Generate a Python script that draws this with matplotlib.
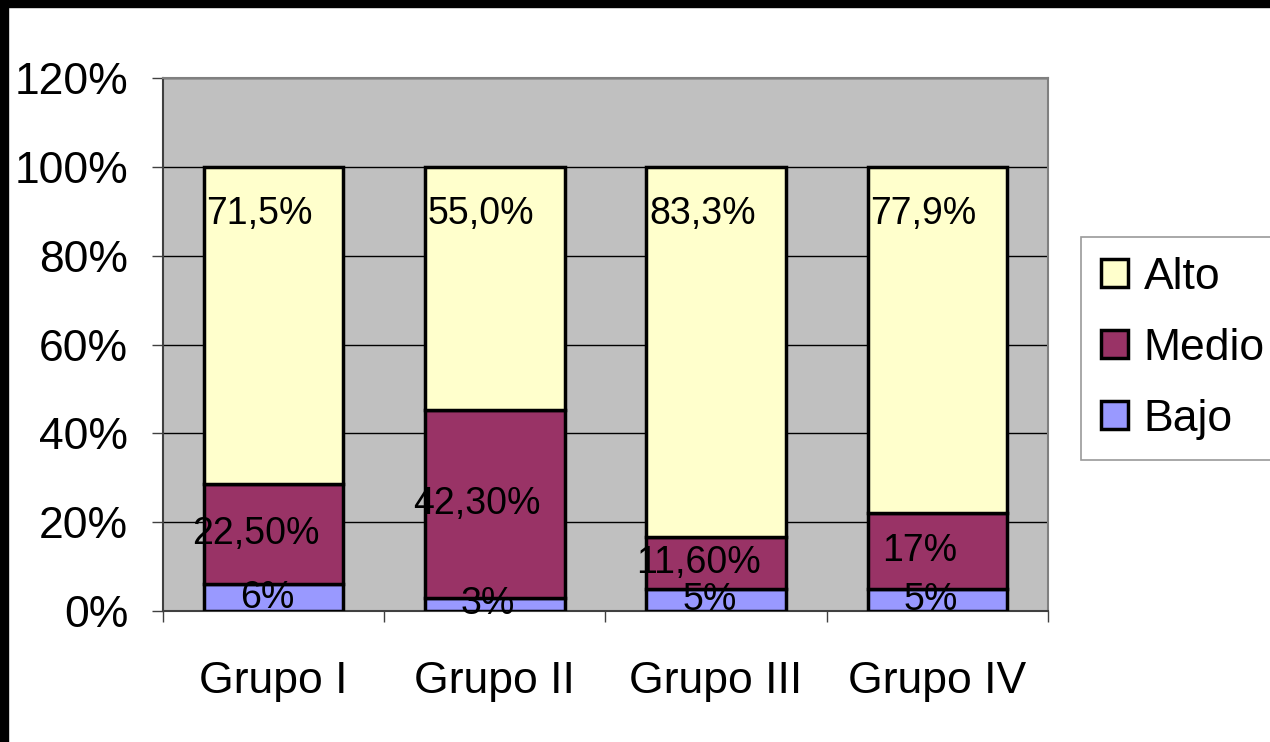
import numpy as np
import matplotlib.pyplot as plt
from matplotlib.patches import Rectangle

plt.rcParams['font.family'] = ['Liberation Sans', 'DejaVu Sans']

grupos = ['Grupo I', 'Grupo II', 'Grupo III', 'Grupo IV']
bajo = [6.0, 3.0, 5.0, 5.0]
medio = [22.5, 42.3, 11.6, 17.0]
alto = [71.5, 55.0, 83.3, 77.9]
lbl_bajo = ['6%', '3%', '5%', '5%']
lbl_medio = ['22,50%', '42,30%', '11,60%', '17%']
lbl_alto = ['71,5%', '55,0%', '83,3%', '77,9%']
yticks = [0, 20, 40, 60, 80, 100, 120]

# 100% stacked, like the spreadsheet
tot = np.array(bajo) + np.array(medio) + np.array(alto)
b = np.array(bajo) / tot * 100
m = np.array(medio) / tot * 100
a = np.array(alto) / tot * 100

fig = plt.figure(figsize=(12.7, 7.42), dpi=100)
ax = fig.add_axes([0.1283, 0.1765, 0.6969, 0.7183])
ax.set_facecolor('#C0C0C0')

x = np.arange(len(grupos))
w = 0.63
kw = dict(width=w, edgecolor='black', linewidth=2.5, zorder=3)
pb = ax.bar(x, b, color='#9999FF', label='Bajo', **kw)
pm = ax.bar(x, m, bottom=b, color='#993366', label='Medio', **kw)
pa = ax.bar(x, a, bottom=b + m, color='#FFFFCC', label='Alto', **kw)

for i in range(len(grupos)):
    ax.text(x[i] - 0.03, b[i] / 2, lbl_bajo[i], ha='center', va='center',
            fontsize=27, zorder=4)
    ax.text(x[i] - 0.08, b[i] + m[i] / 2, lbl_medio[i], ha='center',
            va='center', fontsize=27, zorder=4)
    ax.text(x[i] - w / 2 + 0.012, 89.5, lbl_alto[i], ha='left', va='center',
            fontsize=27, zorder=4)

ax.set_xlim(-0.5, len(grupos) - 0.5)
ax.set_ylim(0, 120)
ax.set_yticks(yticks)
ax.set_yticklabels([f'{t}%' for t in yticks], fontsize=32)
ax.yaxis.grid(True, color='black', linewidth=1, zorder=1)
ax.set_axisbelow(True)

ax.set_xticks(np.arange(len(grupos) + 1) - 0.5)
ax.set_xticklabels([])
ax.set_xticks(x, minor=True)
ax.set_xticklabels(grupos, minor=True, fontsize=32)
ax.tick_params(axis='x', which='minor', length=0, pad=36)
ax.tick_params(axis='x', which='major', length=8, width=1, color='#404040')
ax.tick_params(axis='y', length=8, width=1, color='#404040', pad=17)

for s in ax.spines.values():
    s.set_color('#808080')
    s.set_linewidth(1.5)
ax.spines['left'].set_color('#404040')
ax.spines['bottom'].set_color('#404040')

leg = fig.legend(handles=[pa, pm, pb], labels=['Alto', 'Medio', 'Bajo'],
                 loc='upper left', bbox_to_anchor=(0.8512, 0.6806),
                 fontsize=32, frameon=True, fancybox=False,
                 handlelength=0.6, handleheight=0.6, handletextpad=0.36,
                 labelspacing=0.67, borderpad=0.45, borderaxespad=0)
leg.get_frame().set_edgecolor('#808080')
leg.get_frame().set_linewidth(1.2)

# black edges of the original screenshot
fig.patches.append(Rectangle((0, 0), 8 / 1270, 1, transform=fig.transFigure,
                             color='black', zorder=10))
fig.patches.append(Rectangle((0, 1 - 7 / 742), 1, 7 / 742,
                             transform=fig.transFigure, color='black', zorder=10))

fig.savefig('out.png', dpi=100)
